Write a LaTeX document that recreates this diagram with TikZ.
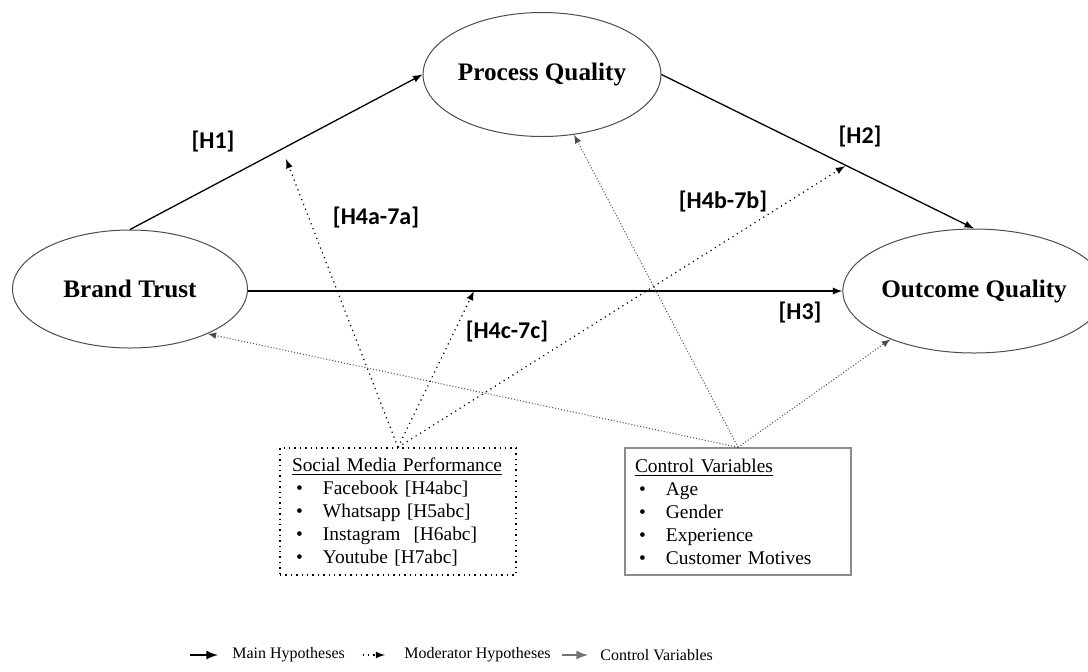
\documentclass[tikz,border=0pt]{standalone}
\usepackage{fontspec}
\setmainfont{Liberation Serif}
\newfontfamily\hypfont{Carlito}
\usepackage{tikz}
\usetikzlibrary{shapes.geometric}
\newcommand{\blt}[1]{\makebox[15.5pt][l]{\hspace{2pt}\textbullet}#1}

\begin{document}
\begin{tikzpicture}[x=0.5pt,y=-0.5pt,>=latex]
\tikzstyle{construct}=[ellipse,draw=black!70,line width=0.5pt,inner sep=0pt,font=\bfseries\fontsize{12.6}{15}\selectfont]
\tikzstyle{hyp}=[font=\hypfont\bfseries\fontsize{12}{14}\selectfont]
\tikzstyle{listbox}=[rectangle,align=left,minimum height=63.5pt,font=\fontsize{9.7}{11.5}\selectfont]
\tikzstyle{main}=[->,black,line width=0.65pt]
\tikzstyle{moder}=[->,black,dotted,line width=0.6pt]
\tikzstyle{ctrl}=[->,black!70,densely dotted,line width=0.5pt]
\tikzstyle{legtxt}=[anchor=west,inner sep=0pt,font=\fontsize{8}{9}\selectfont]
\useasboundingbox (0,0) rectangle (1088,671);
\node[construct,minimum width=117.5pt,minimum height=59pt](bt) at (130,289) {Brand Trust};
\node[construct,minimum width=117pt,minimum height=62pt](pq) at (542,74.5) {Process Quality};
\node[construct,minimum width=111pt,minimum height=62pt](oq) at (974,291) {Outcome Quality};
\node[listbox,draw=black,dotted,line width=0.7pt,inner xsep=6pt,text width=106pt](smp) at (398,511.5) {\underline{Social Media Performance}\\
\blt{Facebook [H4abc]}\\
\blt{Whatsapp [H5abc]}\\
\blt{Instagram\ \ [H6abc]}\\
\blt{Youtube [H7abc]}};
\node[listbox,draw=black!45,line width=0.7pt,inner xsep=5pt,text width=103pt](cv) at (738,511.5) {\underline{Control Variables}\\
\blt{Age}\\
\blt{Gender}\\
\blt{Experience}\\
\blt{Customer Motives}};
\draw[main](bt.north) -- (pq.west);
\draw[main](pq.east) -- (oq.north);
\draw[main](bt.east |- oq.west) -- (oq.west);
\coordinate (m1) at (286,159);
\coordinate (m2) at (845,166);
\coordinate (m3) at (474,291);
\draw[moder](smp.north) -- (m1);
\draw[moder](smp.north) -- (m2);
\draw[moder](smp.north) -- (m3);
\draw[ctrl](cv.north) -- (bt.-30);
\draw[ctrl](cv.north) -- (pq.-62);
\draw[ctrl](cv.north) -- (oq.-150);
\node[hyp](h1) at (213,142) {[H1]};
\node[hyp](h2) at (860,137) {[H2]};
\node[hyp](h3) at (800,313) {[H3]};
\node[hyp](h4a) at (376,218) {[H4a-7a]};
\node[hyp](h4b) at (723,202) {[H4b-7b]};
\node[hyp](h4c) at (507,332) {[H4c-7c]};
\coordinate (la1) at (190,655);
\coordinate (la2) at (218,655);
\coordinate (lb1) at (363,655);
\coordinate (lb2) at (385,655);
\coordinate (lc1) at (562,655);
\coordinate (lc2) at (588,655);
\draw[main,line width=1pt](la1) -- (la2);
\draw[moder](lb1) -- (lb2);
\draw[->,black!55,line width=1pt](lc1) -- (lc2);
\node[legtxt](lt1) at (232,655) {Main Hypotheses};
\node[legtxt](lt2) at (404,655) {Moderator Hypotheses};
\node[legtxt](lt3) at (600,655) {Control Variables};
\end{tikzpicture}
\end{document}
